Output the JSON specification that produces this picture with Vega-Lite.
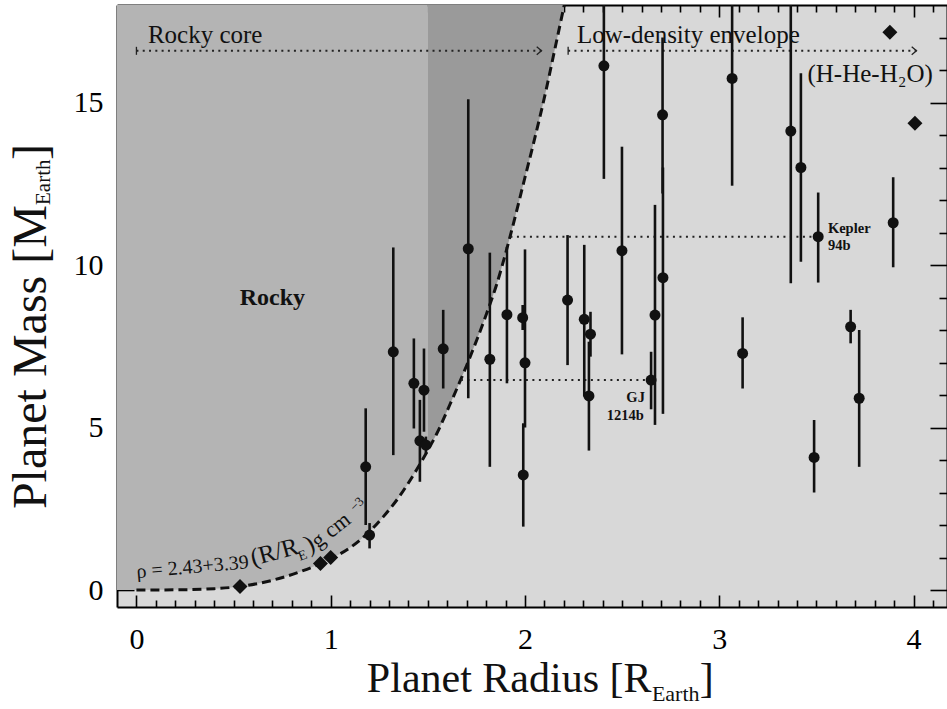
{
  "$schema": "https://vega.github.io/schema/vega-lite/v6.json",
  "width": 830,
  "height": 602,
  "autosize": {"type": "none"},
  "padding": {"left": 117, "top": 5, "right": 0, "bottom": 102},
  "background": "white",
  "config": {
    "view": {"fill": "#d8d8d8", "stroke": null},
    "font": "Liberation Serif",
    "text": {"font": "Liberation Serif"},
    "axis": {"grid": false, "labelFont": "Liberation Serif", "labelColor": "black", "labelFontSize": 30, "tickColor": "black", "tickWidth": 1.6, "domainColor": "black", "domainWidth": 2, "zindex": 1, "labelFlush": false, "labelOverlap": false, "labelBound": false}
  },
  "resolve": {"axis": {"x": "independent", "y": "independent"}},
  "datasets": {
    "curve": [
      {"R": -0.1, "M": 0}, {"R": 0, "M": 0}, {"R": 0.2, "M": 0.005}, {"R": 0.4, "M": 0.04},
      {"R": 0.534, "M": 0.11}, {"R": 0.7, "M": 0.3}, {"R": 0.85, "M": 0.58}, {"R": 0.944, "M": 0.8},
      {"R": 1.0, "M": 0.96}, {"R": 1.099, "M": 1.3}, {"R": 1.2, "M": 1.8}, {"R": 1.27, "M": 2.25},
      {"R": 1.35, "M": 2.85}, {"R": 1.442, "M": 3.7}, {"R": 1.5, "M": 4.3}, {"R": 1.545, "M": 4.8},
      {"R": 1.613, "M": 5.7}, {"R": 1.699, "M": 6.9}, {"R": 1.802, "M": 8.5}, {"R": 1.854, "M": 9.4},
      {"R": 1.922, "M": 10.85}, {"R": 2.0, "M": 12.7}, {"R": 2.042, "M": 13.7}, {"R": 2.111, "M": 15.45},
      {"R": 2.145, "M": 16.4}, {"R": 2.202, "M": 18.0}
    ],
    "planets": [
      {"R": 1.18, "M": 3.79, "lo": 2.0, "hi": 5.59},
      {"R": 1.2, "M": 1.69, "lo": 1.28, "hi": 2.06},
      {"R": 1.322, "M": 7.33, "lo": 4.15, "hi": 10.54},
      {"R": 1.428, "M": 6.36, "lo": 4.97, "hi": 7.74},
      {"R": 1.459, "M": 4.59, "lo": 3.33, "hi": 5.85},
      {"R": 1.48, "M": 6.15, "lo": 4.87, "hi": 7.43},
      {"R": 1.49, "M": 4.46, "lo": 4.2, "hi": 4.72},
      {"R": 1.579, "M": 7.42, "lo": 6.2, "hi": 8.62},
      {"R": 1.708, "M": 10.5, "lo": 5.9, "hi": 15.1},
      {"R": 1.819, "M": 7.1, "lo": 3.79, "hi": 10.38},
      {"R": 1.907, "M": 8.47, "lo": 6.36, "hi": 10.56},
      {"R": 1.988, "M": 8.38, "lo": 8.0, "hi": 8.77},
      {"R": 2.0, "M": 6.99, "lo": 5.0, "hi": 10.48},
      {"R": 1.991, "M": 3.54, "lo": 1.95, "hi": 5.13},
      {"R": 2.219, "M": 8.92, "lo": 6.92, "hi": 10.92},
      {"R": 2.305, "M": 8.33, "lo": 5.95, "hi": 10.62},
      {"R": 2.337, "M": 7.87, "lo": 7.18, "hi": 8.56},
      {"R": 2.329, "M": 5.97, "lo": 4.29, "hi": 7.64},
      {"R": 2.499, "M": 10.44, "lo": 7.25, "hi": 13.64},
      {"R": 2.406, "M": 16.13, "lo": 12.65, "hi": 19.0},
      {"R": 2.649, "M": 6.46, "lo": 5.56, "hi": 7.33},
      {"R": 2.669, "M": 8.46, "lo": 5.08, "hi": 11.85},
      {"R": 2.71, "M": 9.61, "lo": 5.42, "hi": 13.0},
      {"R": 2.708, "M": 14.62, "lo": 12.2, "hi": 17.0},
      {"R": 3.066, "M": 15.74, "lo": 12.44, "hi": 19.0},
      {"R": 3.368, "M": 14.12, "lo": 9.44, "hi": 19.0},
      {"R": 3.42, "M": 13.0, "lo": 10.1, "hi": 15.9},
      {"R": 3.509, "M": 10.87, "lo": 9.46, "hi": 12.23},
      {"R": 3.895, "M": 11.3, "lo": 9.93, "hi": 12.7},
      {"R": 3.12, "M": 7.28, "lo": 6.2, "hi": 8.39},
      {"R": 3.676, "M": 8.1, "lo": 7.59, "hi": 8.62},
      {"R": 3.72, "M": 5.9, "lo": 3.79, "hi": 8.0},
      {"R": 3.488, "M": 4.08, "lo": 3.0, "hi": 5.23}
    ],
    "solar": [
      {"name": "Mars", "R": 0.533, "M": 0.107},
      {"name": "Venus", "R": 0.947, "M": 0.815},
      {"name": "Earth", "R": 1.0, "M": 1.0},
      {"name": "Neptune", "R": 3.878, "M": 17.16},
      {"name": "Uranus", "R": 4.007, "M": 14.36}
    ],
    "guides": [
      {"name": "Kepler-94b", "R": 1.925, "R2": 3.509, "M": 10.87},
      {"name": "GJ 1214b", "R": 1.67, "R2": 2.649, "M": 6.46}
    ],
    "arrows": [
      {"name": "Rocky core", "R": 0, "R2": 2.085, "M": 16.59},
      {"name": "Low-density envelope", "R": 2.222, "R2": 4.015, "M": 16.59}
    ]
  },
  "layer": [
    {
      "data": {"name": "curve"},
      "transform": [{"filter": "datum.R <= 1.5"}],
      "mark": {"type": "area", "fill": "#b4b4b4", "interpolate": "monotone", "clip": true},
      "encoding": {
        "x": {"field": "R", "type": "quantitative", "scale": {"domain": [-0.1, 4.172], "nice": false, "zero": false},
              "axis": {"orient": "bottom", "values": [0, 1, 2, 3, 4], "ticks": false, "labelPadding": 17, "labelFont": "Liberation Serif", "domain": true, "title": null}},
        "y": {"field": "M", "type": "quantitative", "scale": {"domain": [-0.523, 18.0], "nice": false, "zero": false},
              "axis": {"orient": "left", "values": [0, 5, 10, 15], "ticks": false, "labelPadding": 14, "labelFont": "Liberation Serif", "domain": true, "title": null}},
        "y2": {"datum": 18}
      }
    },
    {
      "data": {"name": "curve"},
      "transform": [{"filter": "datum.R >= 1.5"}],
      "mark": {"type": "area", "fill": "#9a9a9a", "interpolate": "monotone", "clip": true},
      "encoding": {
        "x": {"field": "R", "type": "quantitative",
              "axis": {"orient": "bottom", "values": [0, 1, 2, 3, 4], "tickSize": -12, "labels": false, "domain": false, "title": null}},
        "y": {"field": "M", "type": "quantitative",
              "axis": {"orient": "left", "values": [0, 5, 10, 15], "tickSize": -17, "labels": false, "domain": false, "title": null}},
        "y2": {"datum": 18}
      }
    },
    {
      "data": {"name": "curve"},
      "transform": [{"filter": "datum.R >= 0"}],
      "mark": {"type": "line", "color": "#111111", "strokeWidth": 3, "strokeDash": [9, 5], "interpolate": "monotone", "clip": true},
      "encoding": {
        "x": {"field": "R", "type": "quantitative",
              "axis": {"orient": "bottom", "values": [0.1,0.2,0.3,0.4,0.5,0.6,0.7,0.8,0.9,1.1,1.2,1.3,1.4,1.5,1.6,1.7,1.8,1.9,2.1,2.2,2.3,2.4,2.5,2.6,2.7,2.8,2.9,3.1,3.2,3.3,3.4,3.5,3.6,3.7,3.8,3.9,4.1], "tickSize": -7, "labels": false, "domain": false, "title": null}},
        "y": {"field": "M", "type": "quantitative",
              "axis": {"orient": "left", "values": [1,2,3,4,6,7,8,9,11,12,13,14,16,17], "tickSize": -8, "labels": false, "domain": false, "title": null}}
      }
    },
    {
      "data": {"name": "guides"},
      "mark": {"type": "rule", "color": "#222222", "strokeWidth": 2, "strokeDash": [2, 4.5]},
      "encoding": {
        "x": {"field": "R", "type": "quantitative",
              "axis": {"orient": "top", "values": [0, 1, 2, 3, 4], "tickSize": -12, "labels": false, "domain": true, "title": null}},
        "x2": {"field": "R2"},
        "y": {"field": "M", "type": "quantitative",
              "axis": {"orient": "right", "values": [0, 5, 10, 15], "tickSize": -17, "labels": false, "domain": true, "title": null}}
      }
    },
    {
      "data": {"name": "arrows"},
      "mark": {"type": "rule", "color": "#222222", "strokeWidth": 2, "strokeDash": [2, 4.3]},
      "encoding": {
        "x": {"field": "R", "type": "quantitative",
              "axis": {"orient": "top", "values": [0.1,0.2,0.3,0.4,0.5,0.6,0.7,0.8,0.9,1.1,1.2,1.3,1.4,1.5,1.6,1.7,1.8,1.9,2.1,2.2,2.3,2.4,2.5,2.6,2.7,2.8,2.9,3.1,3.2,3.3,3.4,3.5,3.6,3.7,3.8,3.9,4.1], "tickSize": -7, "labels": false, "domain": false, "title": null}},
        "x2": {"field": "R2"},
        "y": {"field": "M", "type": "quantitative",
              "axis": {"orient": "right", "values": [1,2,3,4,6,7,8,9,11,12,13,14,16,17], "tickSize": -8, "labels": false, "domain": false, "title": null}}
      }
    },
    {
      "data": {"name": "arrows"},
      "mark": {"type": "point", "shape": "M-1.2,-1L0,0L-1.2,1", "filled": false, "stroke": "#222222", "strokeWidth": 1.3, "size": 64, "opacity": 1},
      "encoding": {
        "x": {"field": "R2", "type": "quantitative", "axis": null},
        "y": {"field": "M", "type": "quantitative", "axis": null}
      }
    },
    {
      "data": {"name": "arrows"},
      "mark": {"type": "point", "shape": "M0,-1L0,1", "filled": false, "stroke": "#222222", "strokeWidth": 1.3, "size": 64, "opacity": 1},
      "encoding": {
        "x": {"field": "R", "type": "quantitative", "axis": null},
        "y": {"field": "M", "type": "quantitative", "axis": null}
      }
    },
    {
      "data": {"name": "planets"},
      "mark": {"type": "rule", "color": "#111111", "strokeWidth": 2.6, "clip": true},
      "encoding": {
        "x": {"field": "R", "type": "quantitative", "axis": null},
        "y": {"field": "lo", "type": "quantitative", "axis": null},
        "y2": {"field": "hi"}
      }
    },
    {
      "data": {"name": "planets"},
      "mark": {"type": "point", "shape": "circle", "filled": true, "color": "#111111", "size": 121, "opacity": 1},
      "encoding": {
        "x": {"field": "R", "type": "quantitative", "axis": null},
        "y": {"field": "M", "type": "quantitative", "axis": null}
      }
    },
    {
      "data": {"name": "solar"},
      "mark": {"type": "point", "shape": "diamond", "filled": true, "color": "#111111", "size": 225, "opacity": 1},
      "encoding": {
        "x": {"field": "R", "type": "quantitative", "axis": null},
        "y": {"field": "M", "type": "quantitative", "axis": null}
      }
    },
    {
      "data": {"values": [{}]},
      "mark": {"type": "text", "text": "Rocky core", "font": "Liberation Serif", "fontSize": 25, "align": "left", "baseline": "alphabetic", "color": "#111111"},
      "encoding": {"x": {"datum": 0.059, "type": "quantitative", "axis": null}, "y": {"datum": 16.83, "type": "quantitative", "axis": null}}
    },
    {
      "data": {"values": [{}]},
      "mark": {"type": "text", "text": "Low-density envelope", "font": "Liberation Serif", "fontSize": 25, "align": "left", "baseline": "alphabetic", "color": "#111111"},
      "encoding": {"x": {"datum": 2.267, "type": "quantitative", "axis": null}, "y": {"datum": 16.83, "type": "quantitative", "axis": null}}
    },
    {
      "data": {"values": [{}]},
      "mark": {"type": "text", "text": "(H-He-H₂O)", "font": "Liberation Serif", "fontSize": 25, "align": "right", "baseline": "alphabetic", "color": "#111111"},
      "encoding": {"x": {"datum": 4.099, "type": "quantitative", "axis": null}, "y": {"datum": 15.63, "type": "quantitative", "axis": null}}
    },
    {
      "data": {"values": [{}]},
      "mark": {"type": "text", "text": "Rocky", "font": "Liberation Serif", "fontSize": 24, "fontWeight": "bold", "align": "center", "baseline": "alphabetic", "color": "#111111"},
      "encoding": {"x": {"datum": 0.70, "type": "quantitative", "axis": null}, "y": {"datum": 8.77, "type": "quantitative", "axis": null}}
    },
    {
      "data": {"values": [{}]},
      "mark": {"type": "text", "text": "Kepler", "font": "Liberation Serif", "fontSize": 14.5, "fontWeight": "bold", "align": "left", "baseline": "alphabetic", "color": "#111111"},
      "encoding": {"x": {"datum": 3.559, "type": "quantitative", "axis": null}, "y": {"datum": 10.98, "type": "quantitative", "axis": null}}
    },
    {
      "data": {"values": [{}]},
      "mark": {"type": "text", "text": "94b", "font": "Liberation Serif", "fontSize": 14.5, "fontWeight": "bold", "align": "left", "baseline": "alphabetic", "color": "#111111"},
      "encoding": {"x": {"datum": 3.559, "type": "quantitative", "axis": null}, "y": {"datum": 10.46, "type": "quantitative", "axis": null}}
    },
    {
      "data": {"values": [{}]},
      "mark": {"type": "text", "text": "GJ", "font": "Liberation Serif", "fontSize": 14.5, "fontWeight": "bold", "align": "right", "baseline": "alphabetic", "color": "#111111"},
      "encoding": {"x": {"datum": 2.617, "type": "quantitative", "axis": null}, "y": {"datum": 5.78, "type": "quantitative", "axis": null}}
    },
    {
      "data": {"values": [{}]},
      "mark": {"type": "text", "text": "1214b", "font": "Liberation Serif", "fontSize": 14.5, "fontWeight": "bold", "align": "right", "baseline": "alphabetic", "color": "#111111"},
      "encoding": {"x": {"datum": 2.612, "type": "quantitative", "axis": null}, "y": {"datum": 5.23, "type": "quantitative", "axis": null}}
    },
    {
      "data": {"values": [{}]},
      "mark": {"type": "text", "text": "ρ = 2.43+3.39", "font": "Liberation Serif", "fontSize": 20, "angle": -5, "align": "left", "baseline": "alphabetic", "color": "#111111"},
      "encoding": {"x": {"datum": 0.003, "type": "quantitative", "axis": null}, "y": {"datum": 0.369, "type": "quantitative", "axis": null}}
    },
    {
      "data": {"values": [{}]},
      "mark": {"type": "text", "text": "(R/R", "font": "Liberation Serif", "fontSize": 25, "angle": -15, "align": "left", "baseline": "alphabetic", "color": "#111111"},
      "encoding": {"x": {"datum": 0.5996, "type": "quantitative", "axis": null}, "y": {"datum": 0.738, "type": "quantitative", "axis": null}}
    },
    {
      "data": {"values": [{}]},
      "mark": {"type": "text", "text": "E", "font": "Liberation Serif", "fontSize": 14, "angle": -20, "align": "left", "baseline": "alphabetic", "color": "#111111"},
      "encoding": {"x": {"datum": 0.8417, "type": "quantitative", "axis": null}, "y": {"datum": 0.892, "type": "quantitative", "axis": null}}
    },
    {
      "data": {"values": [{}]},
      "mark": {"type": "text", "text": ")", "font": "Liberation Serif", "fontSize": 25, "angle": -25, "align": "left", "baseline": "alphabetic", "color": "#111111"},
      "encoding": {"x": {"datum": 0.8878, "type": "quantitative", "axis": null}, "y": {"datum": 1.138, "type": "quantitative", "axis": null}}
    },
    {
      "data": {"values": [{}]},
      "mark": {"type": "text", "text": "g cm", "font": "Liberation Serif", "fontSize": 22, "angle": -38, "align": "left", "baseline": "alphabetic", "color": "#111111"},
      "encoding": {"x": {"datum": 0.9341, "type": "quantitative", "axis": null}, "y": {"datum": 1.262, "type": "quantitative", "axis": null}}
    },
    {
      "data": {"values": [{}]},
      "mark": {"type": "text", "text": "−3", "font": "Liberation Serif", "fontSize": 13, "angle": -45, "align": "left", "baseline": "alphabetic", "color": "#111111"},
      "encoding": {"x": {"datum": 1.1246, "type": "quantitative", "axis": null}, "y": {"datum": 2.4, "type": "quantitative", "axis": null}}
    },
    {
      "data": {"values": [{}]},
      "mark": {"type": "text", "text": "Planet Radius [R", "font": "Liberation Serif", "fontSize": 42, "align": "left", "baseline": "alphabetic", "color": "#111111"},
      "encoding": {"x": {"datum": 1.186, "type": "quantitative", "axis": null}, "y": {"datum": -3.138, "type": "quantitative", "axis": null}}
    },
    {
      "data": {"values": [{}]},
      "mark": {"type": "text", "text": "Earth", "font": "Liberation Serif", "fontSize": 22, "align": "left", "baseline": "alphabetic", "color": "#111111"},
      "encoding": {"x": {"datum": 2.653, "type": "quantitative", "axis": null}, "y": {"datum": -3.415, "type": "quantitative", "axis": null}}
    },
    {
      "data": {"values": [{}]},
      "mark": {"type": "text", "text": "]", "font": "Liberation Serif", "fontSize": 42, "align": "left", "baseline": "alphabetic", "color": "#111111"},
      "encoding": {"x": {"datum": 2.9, "type": "quantitative", "axis": null}, "y": {"datum": -3.138, "type": "quantitative", "axis": null}}
    },
    {
      "data": {"values": [{}]},
      "mark": {"type": "text", "text": "Planet Mass [M", "font": "Liberation Serif", "fontSize": 48, "angle": 270, "align": "left", "baseline": "alphabetic", "color": "#111111"},
      "encoding": {"x": {"datum": -0.466, "type": "quantitative", "axis": null}, "y": {"datum": 2.49, "type": "quantitative", "axis": null}}
    },
    {
      "data": {"values": [{}]},
      "mark": {"type": "text", "text": "Earth", "font": "Liberation Serif", "fontSize": 21, "angle": 270, "align": "left", "baseline": "alphabetic", "color": "#111111"},
      "encoding": {"x": {"datum": -0.445, "type": "quantitative", "axis": null}, "y": {"datum": 11.846, "type": "quantitative", "axis": null}}
    },
    {
      "data": {"values": [{}]},
      "mark": {"type": "text", "text": "]", "font": "Liberation Serif", "fontSize": 48, "angle": 270, "align": "left", "baseline": "alphabetic", "color": "#111111"},
      "encoding": {"x": {"datum": -0.466, "type": "quantitative", "axis": null}, "y": {"datum": 13.23, "type": "quantitative", "axis": null}}
    }
  ]
}
